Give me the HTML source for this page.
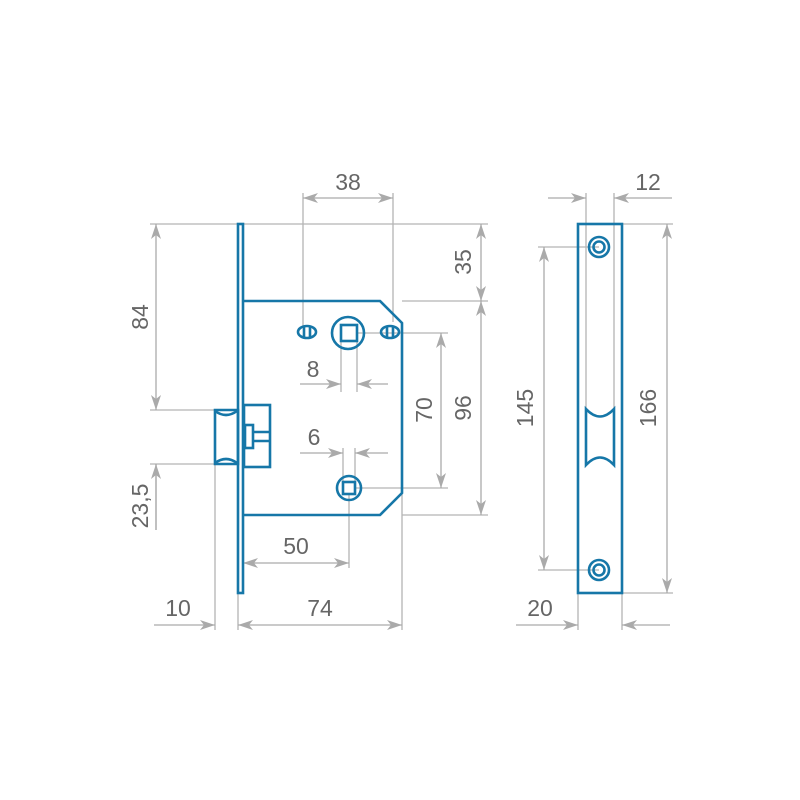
<!DOCTYPE html>
<html><head><meta charset="utf-8"><style>
html,body{margin:0;padding:0;background:#fff}
svg{display:block}
text{font-family:"Liberation Sans",sans-serif;font-size:23px;fill:#666}
</style></head><body>
<svg width="800" height="800" viewBox="0 0 800 800" xmlns="http://www.w3.org/2000/svg">
<defs>
<marker id="a" viewBox="-16 -6 17 12" refX="0" refY="0" markerWidth="17" markerHeight="12" markerUnits="userSpaceOnUse" orient="auto-start-reverse">
<path d="M0,0 L-15,-5 L-11,0 L-15,5 Z" fill="#aaa"/>
</marker>
</defs>
<g stroke="#b4b4b4" stroke-width="1.3" fill="none">
<line x1="150" y1="224" x2="488" y2="224"/>
<line x1="402" y1="301" x2="488" y2="301"/>
<line x1="402" y1="515" x2="488" y2="515"/>
<line x1="303" y1="193" x2="303" y2="326"/>
<line x1="393" y1="193" x2="393" y2="322"/>
<line x1="357" y1="333" x2="448" y2="333"/>
<line x1="355" y1="488" x2="448" y2="488"/>
<line x1="150" y1="410" x2="238" y2="410"/>
<line x1="150" y1="464" x2="238" y2="464"/>
<line x1="341" y1="340" x2="341" y2="392"/>
<line x1="357" y1="340" x2="357" y2="392"/>
<line x1="343" y1="448" x2="343" y2="488"/>
<line x1="355" y1="448" x2="355" y2="488"/>
<line x1="349" y1="494" x2="349" y2="568"/>
<line x1="215" y1="464" x2="215" y2="630"/>
<line x1="238" y1="593" x2="238" y2="630"/>
<line x1="243" y1="515" x2="243" y2="568"/>
<line x1="402" y1="322" x2="402" y2="630"/>
<line x1="156" y1="464" x2="156" y2="530"/>
<line x1="586" y1="193" x2="586" y2="409"/>
<line x1="614" y1="193" x2="614" y2="409"/>
<line x1="622" y1="224" x2="673" y2="224"/>
<line x1="622" y1="593" x2="673" y2="593"/>
<line x1="538" y1="247" x2="599" y2="247"/>
<line x1="538" y1="570" x2="599" y2="570"/>
<line x1="578" y1="593" x2="578" y2="630"/>
<line x1="622" y1="593" x2="622" y2="630"/>
</g>
<g stroke="#aaa" stroke-width="1.3" fill="none">
<line x1="303" y1="198" x2="393" y2="198" marker-start="url(#a)" marker-end="url(#a)"/>
<line x1="481" y1="224" x2="481" y2="301" marker-start="url(#a)" marker-end="url(#a)"/>
<line x1="481" y1="301" x2="481" y2="515" marker-start="url(#a)" marker-end="url(#a)"/>
<line x1="441" y1="333" x2="441" y2="488" marker-start="url(#a)" marker-end="url(#a)"/>
<line x1="156" y1="224" x2="156" y2="410" marker-start="url(#a)" marker-end="url(#a)"/>
<line x1="156" y1="530" x2="156" y2="464" marker-end="url(#a)"/>
<line x1="300" y1="384" x2="341" y2="384" marker-end="url(#a)"/>
<line x1="388" y1="384" x2="357" y2="384" marker-end="url(#a)"/>
<line x1="300" y1="453" x2="343" y2="453" marker-end="url(#a)"/>
<line x1="388" y1="453" x2="355" y2="453" marker-end="url(#a)"/>
<line x1="243" y1="563" x2="349" y2="563" marker-start="url(#a)" marker-end="url(#a)"/>
<line x1="238" y1="625" x2="402" y2="625" marker-start="url(#a)" marker-end="url(#a)"/>
<line x1="154" y1="625" x2="215" y2="625" marker-end="url(#a)"/>
<line x1="548" y1="198" x2="586" y2="198" marker-end="url(#a)"/>
<line x1="672" y1="198" x2="614" y2="198" marker-end="url(#a)"/>
<line x1="667" y1="224" x2="667" y2="593" marker-start="url(#a)" marker-end="url(#a)"/>
<line x1="544" y1="247" x2="544" y2="570" marker-start="url(#a)" marker-end="url(#a)"/>
<line x1="516" y1="625" x2="578" y2="625" marker-end="url(#a)"/>
<line x1="670" y1="625" x2="622" y2="625" marker-end="url(#a)"/>
</g>
<g stroke="#1677a8" stroke-width="2.6" fill="none">
<rect x="238" y="224" width="5" height="369"/>
<path d="M244,301 H380 L402,323 V493 L380,515 H244"/>
<path d="M215,410 H238 V464 H215 Z"/>
<path d="M215,411 Q226,419 237,411 M215,463 Q226,455 237,463"/>
<rect x="244" y="405" width="26" height="62"/>
<rect x="245" y="425" width="8" height="23"/>
<path d="M253,432 H270 M253,441 H270"/>
<ellipse cx="307" cy="332" rx="9" ry="6"/>
<path d="M304,326 V338 M310,326 V338"/>
<ellipse cx="390" cy="332" rx="9" ry="6"/>
<path d="M387,326 V338 M393,326 V338"/>
<circle cx="348" cy="333" r="16"/>
<rect x="341" y="325" width="16" height="16"/>
<circle cx="349" cy="488" r="12"/>
<rect x="343" y="482" width="12" height="12"/>
<rect x="578" y="224" width="44" height="369"/>
<circle cx="599" cy="247" r="10"/><circle cx="599" cy="247" r="5.5"/>
<circle cx="599" cy="570" r="10"/><circle cx="599" cy="570" r="5.5"/>
<path d="M586,409 Q600,424 614,409 V465 Q600,450 586,465 Z"/>
</g>
<text x="348" y="190" text-anchor="middle">38</text>
<text x="648" y="190" text-anchor="middle">12</text>
<text x="313" y="377" text-anchor="middle">8</text>
<text x="314" y="445" text-anchor="middle">6</text>
<text x="296" y="554" text-anchor="middle">50</text>
<text x="178" y="616" text-anchor="middle">10</text>
<text x="320" y="616" text-anchor="middle">74</text>
<text x="540" y="616" text-anchor="middle">20</text>
<text transform="translate(148,317) rotate(-90)" text-anchor="middle">84</text>
<text transform="translate(148,506) rotate(-90)" text-anchor="middle">23,5</text>
<text transform="translate(471,262) rotate(-90)" text-anchor="middle">35</text>
<text transform="translate(432,410) rotate(-90)" text-anchor="middle">70</text>
<text transform="translate(471,408) rotate(-90)" text-anchor="middle">96</text>
<text transform="translate(533,408) rotate(-90)" text-anchor="middle">145</text>
<text transform="translate(656,408) rotate(-90)" text-anchor="middle">166</text>
</svg>
</body></html>
